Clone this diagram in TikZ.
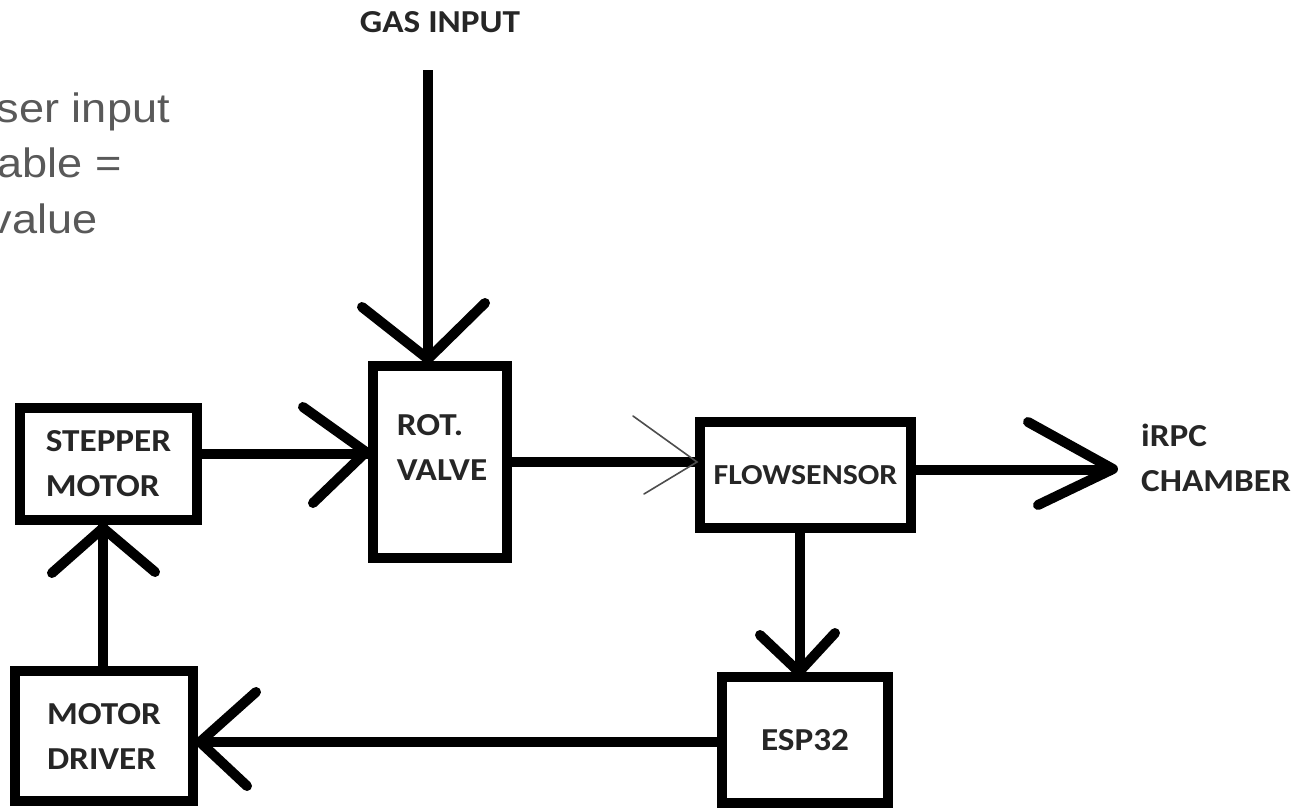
\documentclass[tikz,border=0pt]{standalone}
\usepackage{fontspec}
\newfontfamily\boxfont[FakeStretch=1.1]{Carlito}
\newfontfamily\notefont[FakeStretch=1.1]{Liberation Sans}
\definecolor{ink}{HTML}{262626}
\definecolor{notegray}{HTML}{595959}
\definecolor{thingray}{HTML}{4D4D4D}
\tikzset{
  blk/.style={draw=black, line width=10pt, inner sep=0pt, text=ink, align=left,
    font=\boxfont\bfseries\fontsize{32}{45}\selectfont},
  txt/.style={inner sep=0pt, text=ink, align=left,
    font=\boxfont\bfseries\fontsize{32}{45}\selectfont},
  note/.style={inner sep=0pt, text=notegray, font=\notefont\fontsize{41}{55}\selectfont},
  wire/.style={draw=black, line width=10pt, line cap=butt},
  arm/.style={draw=black, line width=10pt, line cap=round, line join=round},
  thinarm/.style={draw=thingray, line width=1.6pt, line cap=round, line join=miter}
}
\begin{document}
\begin{tikzpicture}[x=1pt,y=-1pt]
\useasboundingbox (0,0) rectangle (1304,811);
\clip (0,0) rectangle (1304,811);
\fill[white] (0,0) rectangle (1304,811);

% boxes
\node[blk, minimum width=177, minimum height=112] (stepper) at (108.5,464) {STEPPER\\MOTOR};
\node[blk, minimum width=178, minimum height=130] (driver) at (104,736) {MOTOR\\DRIVER};
\node[blk, minimum width=134, minimum height=192] (valve) at (440,462) {};
\node[txt] (valvetxt) at (442,447.5) {ROT.\\VALVE};
\node[blk, minimum width=211, minimum height=106, font=\boxfont\bfseries\fontsize{29}{40}\selectfont] (flow) at (805.5,475) {FLOWSENSOR};
\node[blk, minimum width=166, minimum height=126] (esp) at (805,740) {ESP32};

% free labels
\node[txt] (gas) at (440,22) {GAS INPUT};
\node[txt, anchor=west] (chamber) at (1141,458) {iRPC\\CHAMBER};
\node[note, anchor=base east] (n1) at (170,122) {ser input};
\node[note, anchor=base east] (n2) at (122,177) {able =};
\node[note, anchor=base east] (n3) at (98,233) {value};

% tips
\coordinate (gasTop) at (428,70);
\coordinate (gTip) at (428,361);
\coordinate (svTip) at (368,454);
\coordinate (vfTip) at (697,462);
\coordinate (fcTip) at (1113,470);
\coordinate (feTip) at (800,672);
\coordinate (edTip) at (198,742);
\coordinate (dsTip) at (103,525);

% connectors
\draw[wire] (gasTop) -- (gTip);
\draw[arm] (362,307) -- (428,359) -- (485,303);

\draw[wire] (stepper.east |- svTip) -- (svTip);
\draw[arm] (303,407) -- (366,452) -- (313,503);

\draw[wire] (valve.east |- vfTip) -- (flow.west |- vfTip);
\draw[thinarm] (633,416) -- (vfTip) -- (644,494);

\draw[wire] (flow.east |- fcTip) -- (fcTip);
\draw[arm] (1028,422) -- (1113,469) -- (1038,505);

\draw[wire] (flow.south -| feTip) -- (feTip);
\draw[arm] (760,635) -- (799,672) -- (835,633);

\draw[wire] (esp.west |- edTip) -- (edTip);
\draw[arm] (256,692) -- (200,742) -- (247,786);

\draw[wire] (driver.north -| dsTip) -- (dsTip);
\draw[arm] (52,573) -- (103,528) -- (155,572);
\end{tikzpicture}
\end{document}
